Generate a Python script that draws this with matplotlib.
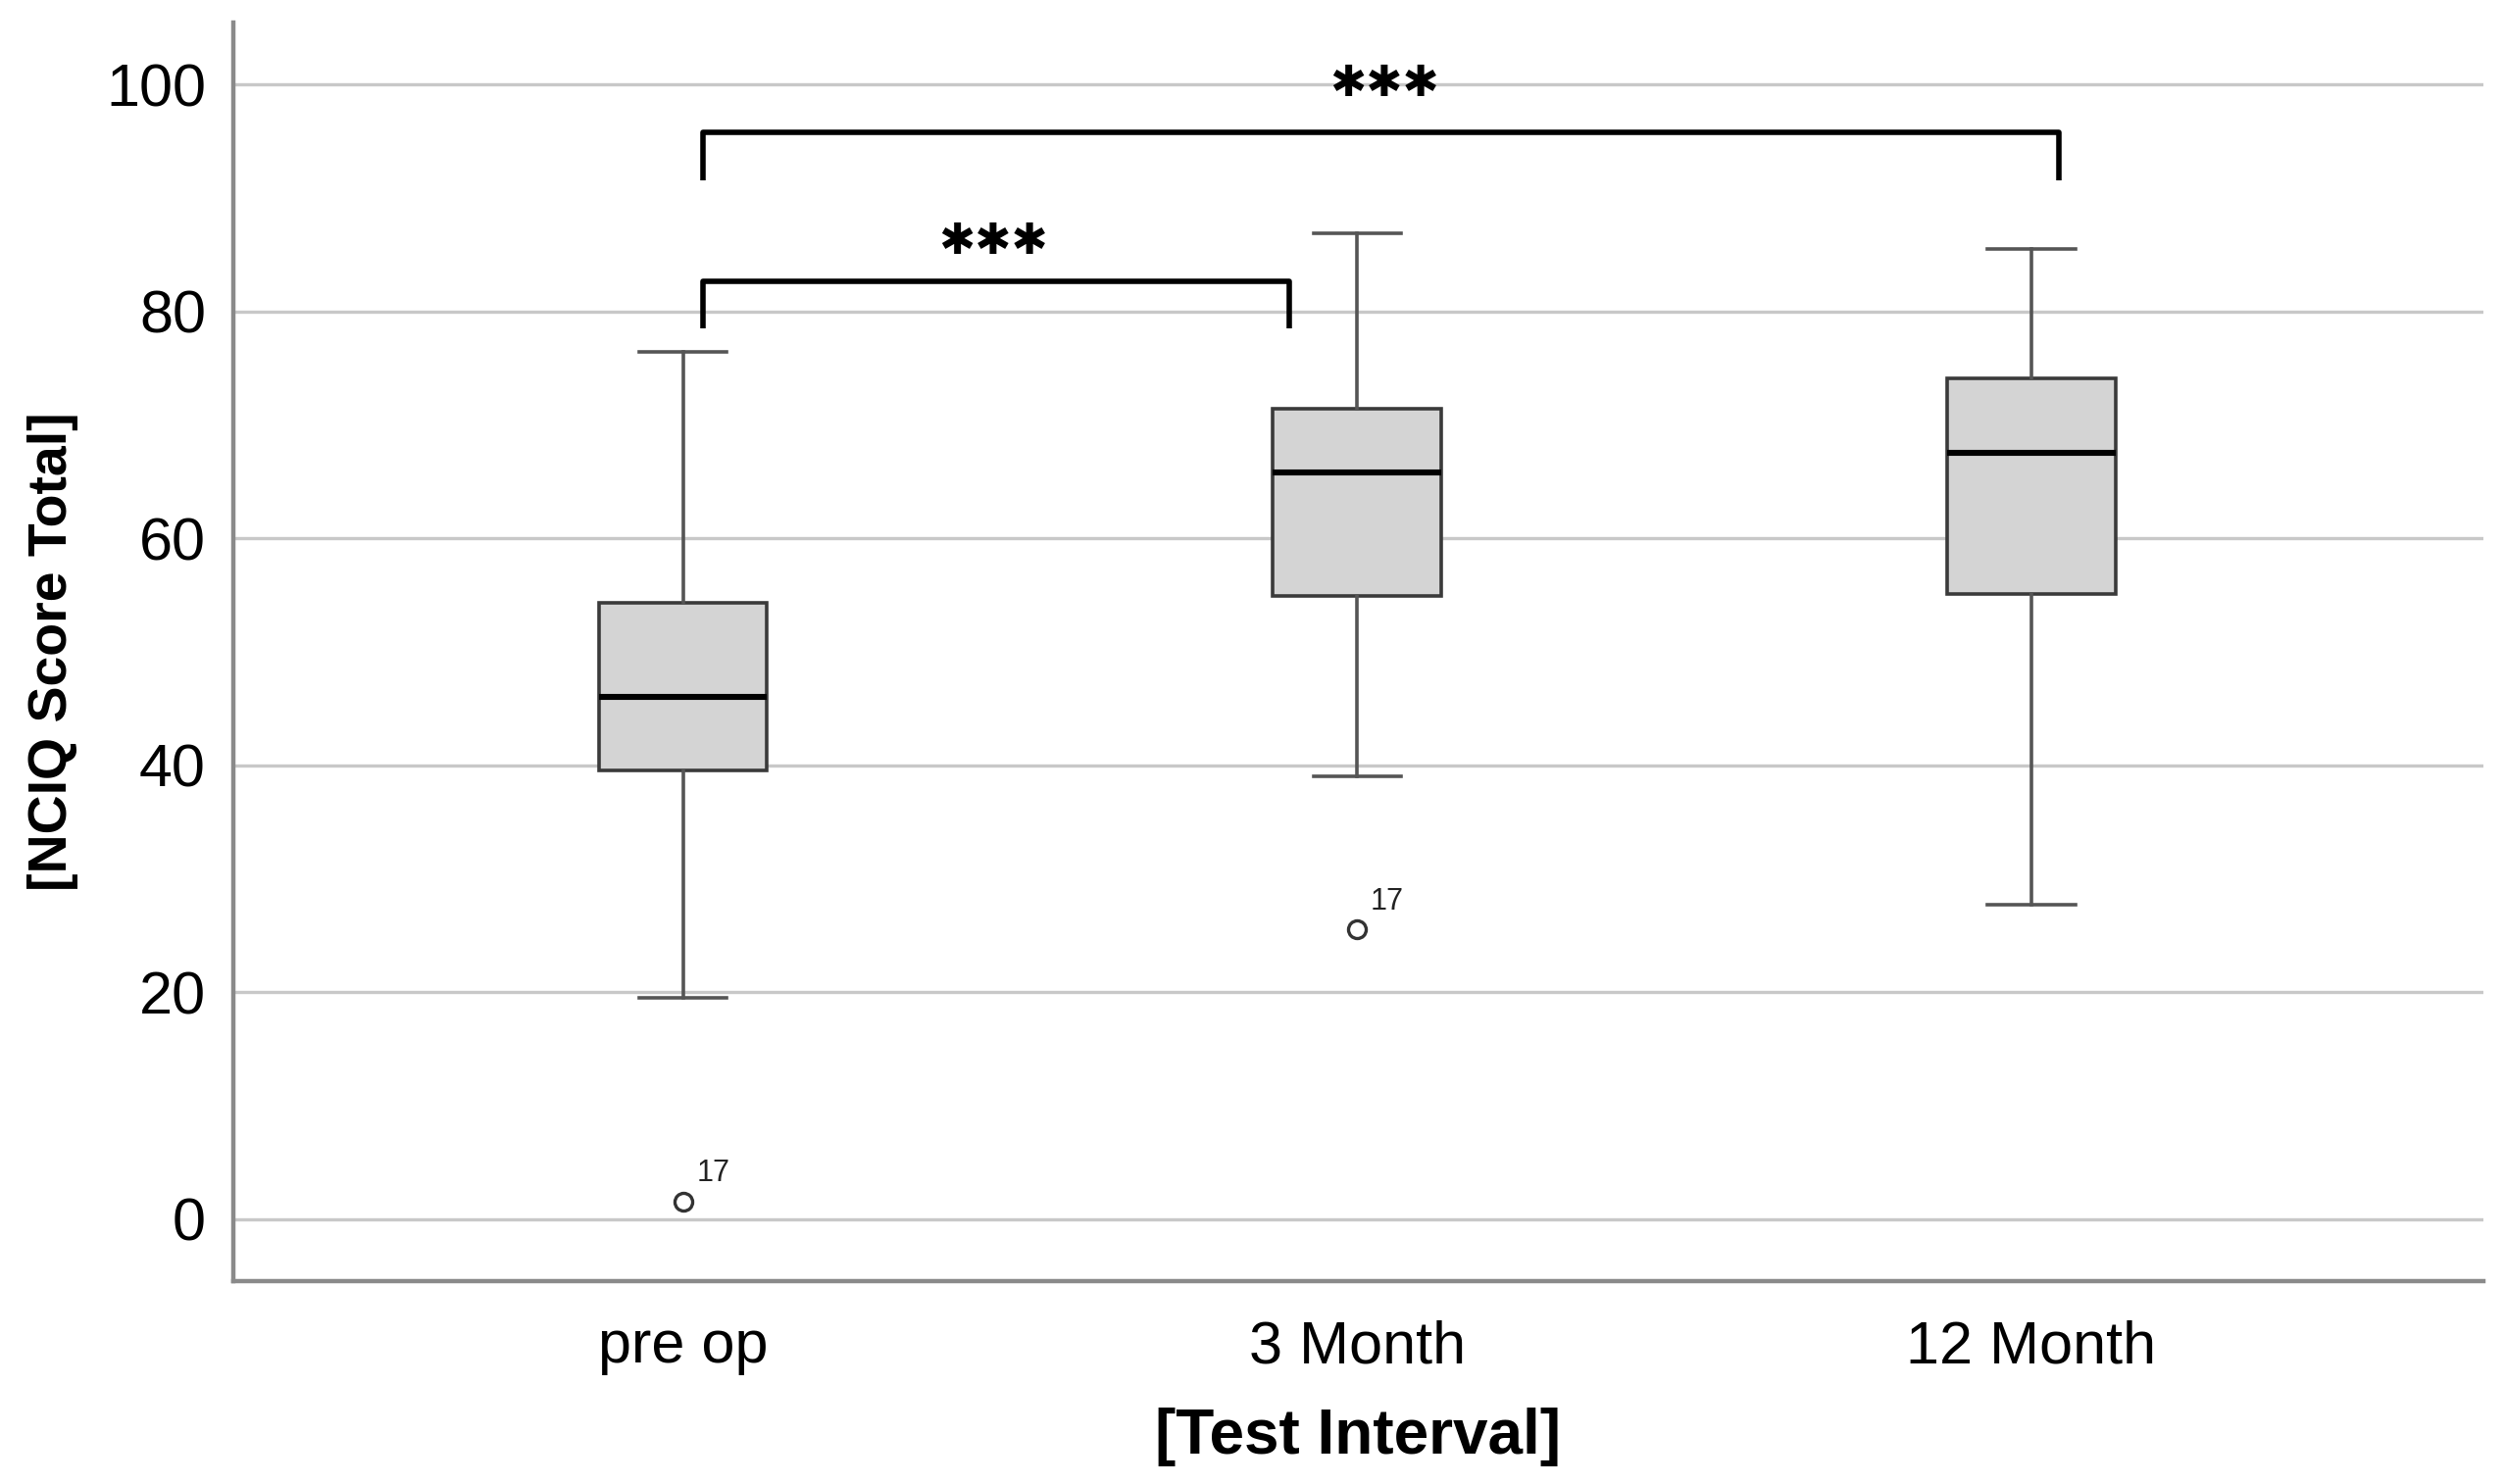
import matplotlib
matplotlib.use("Agg")
import matplotlib.pyplot as plt

plt.rcParams['font.family'] = ['Liberation Sans', 'DejaVu Sans']

# values
groups = ["pre op", "3 Month", "12 Month"]
whis_low = [19.5, 39.0, 27.7]
q1 = [39.5, 54.9, 55.1]
median = [46.0, 65.8, 67.5]
q3 = [54.3, 71.4, 74.1]
whis_high = [76.4, 86.9, 85.5]
outliers = [[1.5], [25.5], []]
outlier_ids = [["17"], ["17"], []]

# significance brackets: (from group, to group, height, label, label y)
brackets = [(0, 1, 82.7, "✱✱✱", 86.2), (0, 2, 95.8, "✱✱✱", 100.1)]

stats = []
for i in range(len(groups)):
    stats.append({
        "label": groups[i],
        "whislo": whis_low[i], "q1": q1[i], "med": median[i],
        "q3": q3[i], "whishi": whis_high[i], "fliers": outliers[i],
    })

fig = plt.figure(figsize=(12.77, 7.57), dpi=200)
ax = fig.add_axes([0.0931, 0.1366, 0.8986, 0.8484])

pos = [1, 2, 3]
ax.bxp(stats, positions=pos, widths=0.25, patch_artist=True,
       boxprops=dict(facecolor="#d4d4d4", edgecolor="#3a3a3a", linewidth=1.3),
       medianprops=dict(color="black", linewidth=2.2),
       whiskerprops=dict(color="#555555", linewidth=1.3),
       capprops=dict(color="#555555", linewidth=1.3),
       capwidths=0.13,
       flierprops=dict(marker="o", markerfacecolor="white", markeredgecolor="#333333",
                       markersize=6.5, markeredgewidth=1.2),
       zorder=3)

# case numbers next to outliers
for i, (vals, ids) in enumerate(zip(outliers, outlier_ids)):
    for v, lab in zip(vals, ids):
        ax.text(pos[i] + 0.02, v + 1.2, lab, fontsize=11, color="#222222",
                ha="left", va="bottom")

# brackets
for a, b, h, lab, ly in brackets:
    x0 = pos[a] + 0.03
    x1 = pos[b] - 0.1 if b == 1 else pos[b] + 0.04
    ax.plot([x0, x0, x1, x1], [h - 4.2, h, h, h - 4.2], color="black",
            linewidth=2.0, solid_joinstyle="round", solid_capstyle="butt", zorder=4)
    ax.text((pos[a] + pos[b]) / 2 + (0.04 if b == 2 else -0.04), ly, lab,
            ha="center", va="center", fontsize=16, family="DejaVu Sans")

ax.set_xlim(0.333, 3.67)
ax.set_ylim(-5.5, 105.5)
ax.set_yticks([0, 20, 40, 60, 80, 100])
ax.set_xticks(pos)
ax.set_xticklabels(groups)
ax.tick_params(axis="both", length=0, labelsize=22, colors="black")
ax.tick_params(axis="x", pad=14)
ax.tick_params(axis="y", pad=10)
ax.yaxis.grid(True, color="#c8c8c8", linewidth=1.2)
ax.set_axisbelow(True)

for s in ["top", "right"]:
    ax.spines[s].set_visible(False)
for s in ["left", "bottom"]:
    ax.spines[s].set_color("#8a8a8a")
    ax.spines[s].set_linewidth(1.6)

ax.set_xlabel("[Test Interval]", fontsize=23, fontweight="bold", labelpad=12)
ax.set_ylabel("[NCIQ Score Total]", fontsize=20, fontweight="bold", labelpad=10)

fig.savefig("out.png", dpi=200)
